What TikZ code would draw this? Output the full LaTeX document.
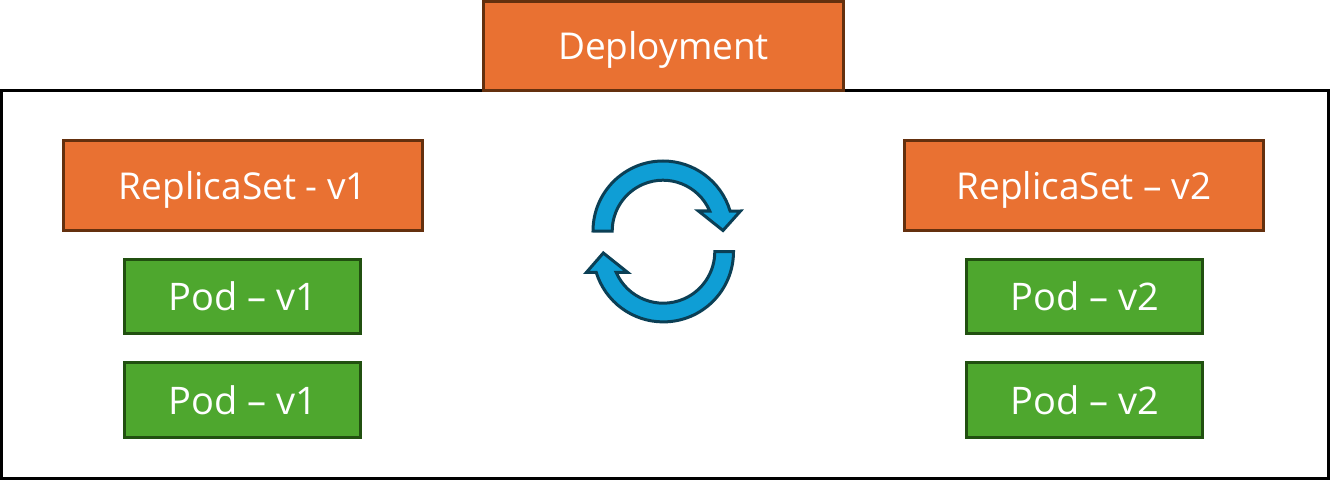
\documentclass[tikz,border=0pt]{standalone}
\usepackage{fontspec}
\setmainfont{Open Sans}
\definecolor{orangefill}{HTML}{E97132}
\definecolor{orangeline}{HTML}{64300E}
\definecolor{greenfill}{HTML}{4EA72E}
\definecolor{greenline}{HTML}{215010}
\definecolor{bluefill}{HTML}{0F9ED5}
\definecolor{blueline}{HTML}{0B3F55}
\tikzset{
  x=1pt,y=1pt,
  orangebox/.style={draw=orangeline,fill=orangefill,line width=3pt,text=white,font=\fontsize{37}{44}\selectfont,inner sep=0pt,text height=28pt,text depth=0pt},
  greenbox/.style={draw=greenline,fill=greenfill,line width=3pt,text=white,font=\fontsize{38}{44}\selectfont,inner sep=0pt,text height=28.5pt,text depth=0pt,minimum width=236pt,minimum height=74.5pt},
  cyclearrow/.style={draw=blueline,fill=bluefill,line width=3pt,line join=miter}
}
\begin{document}
\begin{tikzpicture}
\useasboundingbox (0,0) rectangle (1330,480);
\node[draw=black,line width=3pt,fill=white,minimum width=1327pt,minimum height=388pt,inner sep=0pt] (frame) at (665,195.5) {};
\node[orangebox,minimum width=360pt,minimum height=89pt] (deploy) at (663.5,434) {Deployment};
\node[orangebox,minimum width=359pt,minimum height=90pt] (rs1) at (243,294.5) {ReplicaSet - v1};
\node[orangebox,minimum width=359pt,minimum height=90pt] (rs2) at (1084,294.5) {ReplicaSet – v2};
\node[greenbox] (p1a) at (242.5,183.5) {Pod – v1};
\node[greenbox] (p1b) at (242.5,80) {Pod – v1};
\node[greenbox] (p2a) at (1084.5,183.5) {Pod – v2};
\node[greenbox] (p2b) at (1084.5,80) {Pod – v2};
% cycle arrows
\draw[cyclearrow] (593,249) arc[start angle=180,end angle=16.6,radius=70]
  -- (740.5,269) -- (723,249.5) -- (698.5,269) -- (709.7,269)
  arc[start angle=23.2,end angle=180,radius=50.8] -- cycle;
\draw[cyclearrow] (733.5,228.3) arc[start angle=0,end angle=-162.9,radius=70.2]
  -- (586.5,207.7) -- (603.3,227) -- (627.5,207.7) -- (616.1,207.7)
  arc[start angle=-156.4,end angle=0,radius=51.5] -- cycle;
\end{tikzpicture}
\end{document}
